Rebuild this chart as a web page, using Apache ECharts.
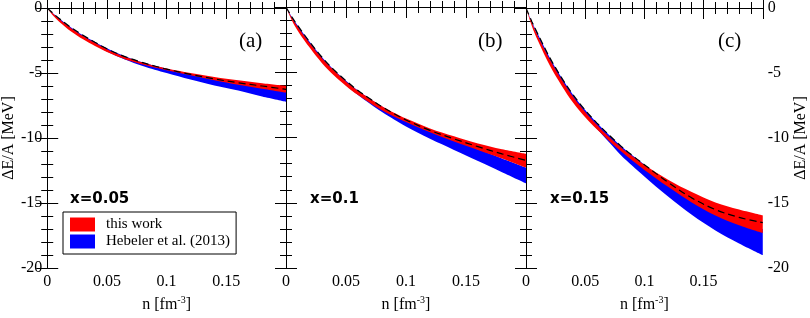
<!DOCTYPE html>
<html>
<head>
<meta charset="utf-8">
<script src="https://cdn.jsdelivr.net/npm/echarts@6/dist/echarts.min.js"></script>
<style>html,body{margin:0;padding:0;background:#fff}#c{width:810px;height:318px}</style>
</head>
<body>
<div id="c"></div>
<script>
// density grid n [fm^-3]
const n = [0, 0.005, 0.01, 0.02, 0.03, 0.04, 0.05, 0.06, 0.07, 0.08, 0.09, 0.1, 0.12, 0.14, 0.16, 0.18, 0.2];

// panel (a) x=0.05
const dashA   = [0,-0.42,-0.8,-1.5,-2.1,-2.64,-3.13,-3.55,-3.9,-4.2,-4.46,-4.7,-5.1,-5.45,-5.75,-6.0,-6.25];
const redHiA  = [0,-0.45,-0.85,-1.55,-2.15,-2.68,-3.17,-3.57,-3.9,-4.2,-4.45,-4.65,-5.0,-5.3,-5.55,-5.78,-5.98];
const redLoA  = [0,-0.6,-1.05,-1.8,-2.4,-2.92,-3.38,-3.76,-4.08,-4.35,-4.58,-4.78,-5.17,-5.55,-5.9,-6.2,-6.5];
const blueHiA = [0,-0.42,-0.8,-1.5,-2.1,-2.62,-3.1,-3.52,-3.88,-4.18,-4.45,-4.68,-5.1,-5.45,-5.78,-6.1,-6.4];
const blueLoA = [0,-0.5,-0.95,-1.7,-2.3,-2.85,-3.35,-3.77,-4.13,-4.46,-4.75,-5.0,-5.5,-5.95,-6.35,-6.8,-7.2];

// panel (b) x=0.1
const dashB   = [0,-0.78,-1.45,-2.7,-3.85,-4.82,-5.65,-6.4,-7.03,-7.64,-8.17,-8.65,-9.45,-10.1,-10.7,-11.25,-11.75];
const redHiB  = [0,-0.85,-1.55,-2.8,-3.92,-4.87,-5.7,-6.42,-7.02,-7.6,-8.1,-8.55,-9.3,-9.9,-10.45,-10.9,-11.25];
const redLoB  = [0,-1.05,-1.85,-3.15,-4.3,-5.25,-6.05,-6.75,-7.35,-7.9,-8.38,-8.8,-9.6,-10.3,-10.95,-11.6,-12.3];
const blueHiB = [0,-0.78,-1.45,-2.7,-3.85,-4.82,-5.65,-6.4,-7.02,-7.62,-8.15,-8.62,-9.45,-10.2,-10.9,-11.6,-12.3];
const blueLoB = [0,-0.9,-1.65,-2.95,-4.1,-5.1,-5.98,-6.75,-7.42,-8.05,-8.62,-9.15,-10.1,-10.95,-11.8,-12.65,-13.5];

// panel (c) x=0.15
const dashC   = [0,-1.05,-2.0,-3.8,-5.35,-6.7,-7.85,-8.85,-9.75,-10.6,-11.35,-12.05,-13.4,-14.6,-15.5,-16.1,-16.5];
const redHiC  = [0,-1.15,-2.15,-3.95,-5.5,-6.85,-8.0,-9.0,-9.9,-10.7,-11.4,-12.05,-13.2,-14.15,-14.95,-15.5,-15.95];
const redLoC  = [0,-1.4,-2.5,-4.4,-5.95,-7.3,-8.4,-9.35,-10.2,-11.0,-11.75,-12.45,-13.75,-14.95,-15.95,-16.7,-17.3];
const blueHiC = [0,-1.05,-2.0,-3.8,-5.35,-6.7,-7.85,-8.85,-9.75,-10.6,-11.35,-12.05,-13.4,-14.6,-15.6,-16.4,-17.0];
const blueLoC = [0,-1.15,-2.2,-4.05,-5.65,-7.05,-8.25,-9.3,-10.3,-11.3,-12.15,-12.95,-14.5,-15.9,-17.1,-18.1,-19.0];

const panelLetters = ['(a)', '(b)', '(c)'];
const panelLabels = ['x=0.05', 'x=0.1', 'x=0.15'];
const seriesNames = ['this work', 'Hebeler et al. (2013)'];
const xTicks = [0, 0.05, 0.1, 0.15, 0.2];
const yTicks = [0, -5, -10, -15, -20];

const panels = [
  {dash: dashA, rHi: redHiA, rLo: redLoA, bHi: blueHiA, bLo: blueLoA},
  {dash: dashB, rHi: redHiB, rLo: redLoB, bHi: blueHiB, bLo: blueLoB},
  {dash: dashC, rHi: redHiC, rLo: redLoC, bHi: blueHiC, bLo: blueLoC}
];

const RED = '#ff0000', BLUE = '#0000ff';
const SERIF = '"Liberation Serif", "Times New Roman", serif';
const gridLeft = [46, 286, 526];
const gridW = 240, gridTop = 7, gridH = 266;

const grids = [], xAxes = [], yAxes = [], series = [];
// data stored as [y, x] so that the stacked (first numeric) dimension is y
const pair = (arr) => arr.map((v, i) => [v, n[i]]);
const diff = (lo, hi) => lo.map((v, i) => [+(v - hi[i]).toFixed(4), n[i]]);

const tickCommon = {
  axisLine: {show: true, lineStyle: {color: '#000', width: 1}},
  axisTick: {show: true, inside: true, length: 11, lineStyle: {color: '#000', width: 1}},
  minorTick: {show: true, splitNumber: 5, length: 6, lineStyle: {color: '#000', width: 1}},
  splitLine: {show: false},
  minorSplitLine: {show: false}
};

panels.forEach((p, i) => {
  grids.push({left: gridLeft[i], top: gridTop, width: gridW, height: gridH, containLabel: false});
  xAxes.push(Object.assign({
    gridIndex: i, type: 'value', position: 'bottom', min: xTicks[0], max: xTicks[4], interval: 0.05,
    axisLabel: {show: true, margin: 6, color: '#000', fontFamily: SERIF, fontSize: 16,
      formatter: (v) => (v > 0.19 ? '' : String(+v.toFixed(2)))},
    name: '{a|n [fm}{s|-3}{a|]}', nameLocation: 'middle', nameGap: 22,
    nameTextStyle: {rich: {
      a: {fontFamily: SERIF, fontSize: 16, color: '#000', verticalAlign: 'bottom'},
      s: {fontFamily: SERIF, fontSize: 10, color: '#000', verticalAlign: 'top', padding: [0, 0, 8, 0]}
    }}
  }, tickCommon));
  xAxes.push(Object.assign({
    gridIndex: i, type: 'value', position: 'top', min: xTicks[0], max: xTicks[4], interval: 0.05,
    axisLabel: {show: false}
  }, tickCommon));
  yAxes.push(Object.assign({
    gridIndex: i, type: 'value', position: 'left', min: yTicks[4], max: yTicks[0], interval: 5,
    axisLabel: {show: i === 0, margin: 5, color: '#000', fontFamily: SERIF, fontSize: 16},
    name: i === 0 ? 'ΔE/A [MeV]' : '', nameLocation: 'middle', nameGap: 25, nameRotate: 90,
    nameTextStyle: {fontFamily: SERIF, fontSize: 16, color: '#000'}
  }, tickCommon));
  yAxes.push(Object.assign({
    gridIndex: i, type: 'value', position: 'right', min: yTicks[4], max: yTicks[0], interval: 5,
    axisLabel: {show: i === 2, margin: 5, color: '#000', fontFamily: SERIF, fontSize: 16},
    name: i === 2 ? 'ΔE/A [MeV]' : '', nameLocation: 'middle', nameGap: 30, nameRotate: 90,
    nameTextStyle: {fontFamily: SERIF, fontSize: 16, color: '#000'}
  }, tickCommon));

  const xi = 2 * i, yi = 2 * i;
  const base = {type: 'line', xAxisIndex: xi, yAxisIndex: yi, symbol: 'none', smooth: 0.35,
    encode: {x: 1, y: 0}, silent: true, animation: false};
  series.push(Object.assign({}, base, {name: 'blueBase' + i, stack: 'b' + i,
    data: pair(p.bHi), lineStyle: {width: 0, opacity: 0}}));
  series.push(Object.assign({}, base, {name: seriesNames[1], stack: 'b' + i, color: BLUE,
    data: diff(p.bLo, p.bHi), lineStyle: {width: 0, opacity: 0}, areaStyle: {color: BLUE, opacity: 1}}));
  series.push(Object.assign({}, base, {name: 'redBase' + i, stack: 'r' + i,
    data: pair(p.rHi), lineStyle: {width: 0, opacity: 0}}));
  series.push(Object.assign({}, base, {name: seriesNames[0], stack: 'r' + i, color: RED,
    data: diff(p.rLo, p.rHi), lineStyle: {width: 0, opacity: 0}, areaStyle: {color: RED, opacity: 1}}));
  series.push(Object.assign({}, base, {name: 'dash' + i,
    data: pair(p.dash), lineStyle: {color: '#000', width: 1.2, type: [7, 4]}, z: 5}));
});

const graphics = [];
const letterX = [251, 490, 730];
const labelX = [70, 310, 550];
panels.forEach((p, i) => {
  graphics.push({type: 'text', left: letterX[i] - 12, top: 31, z: 10,
    style: {text: panelLetters[i], font: '21px ' + SERIF, fill: '#000'}});
  graphics.push({type: 'text', left: labelX[i], top: 192, z: 10,
    style: {text: panelLabels[i], font: 'bold 15px "DejaVu Sans", sans-serif', fill: '#000'}});
});

const chart = echarts.init(document.getElementById('c'), null, {renderer: 'canvas'});
chart.setOption({
  animation: false,
  backgroundColor: '#fff',
  grid: grids,
  xAxis: xAxes,
  yAxis: yAxes,
  legend: {
    data: seriesNames.map(nm => ({name: nm, icon: 'rect'})),
    orient: 'vertical', left: 63, top: 212,
    itemWidth: 25, itemHeight: 14, itemGap: 2,
    padding: [5, 6, 5, 7],
    borderColor: '#000', borderWidth: 1, backgroundColor: '#fff',
    selectedMode: false,
    textStyle: {fontFamily: SERIF, fontSize: 15, color: '#000', padding: [0, 0, 0, 6]},
    z: 10
  },
  graphic: graphics,
  series: series
});
</script>
</body>
</html>
